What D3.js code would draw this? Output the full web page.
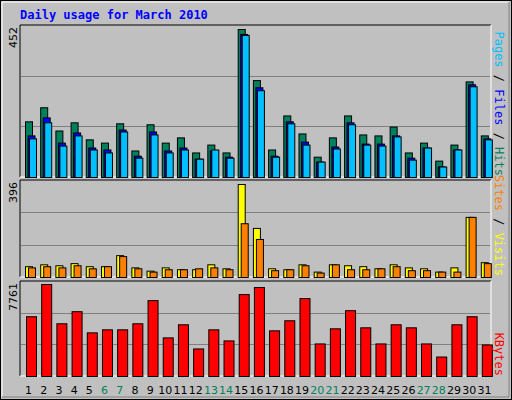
<!DOCTYPE html><html><head><meta charset="utf-8"><script src="https://d3js.org/d3.v7.min.js"></script>
<style>body{margin:0;background:#fff}</style></head><body><svg id="c" width="512" height="400"></svg>
<script>
const days=d3.range(1,32).map(String);
const weekend=["6","7","13","14","20","21","27","28"];
const hits=[170,213,142,167,115,105,164,81,161,105,121,75,99,75,452,296,84,188,133,62,121,188,130,127,154,75,105,50,99,292,127];
const files=[127,182,105,136,90,84,145,65,139,81,90,56,81,62,437,274,65,170,108,47,93,167,102,102,127,59,90,32,84,283,118];
const pages=[118,167,96,127,84,75,139,59,130,75,84,56,84,59,434,265,62,164,99,47,87,161,99,96,124,53,90,32,84,277,115];
const visits=[46,54,50,59,46,46,93,41,27,41,33,33,54,37,396,209,37,33,54,23,54,50,46,37,54,41,37,23,41,256,63];
const sites=[41,46,41,50,37,46,89,37,23,33,33,37,41,33,229,162,29,33,50,19,54,33,33,37,46,29,29,23,23,256,59];
const kbytes=[5042,7761,4447,5467,3682,3937,3937,4447,6401,3257,4362,2323,3937,3002,6911,7506,3852,4702,6571,2747,4022,5552,4107,2747,4362,4107,2747,1643,4362,5042,2662];
const svg=d3.select("#c");
svg.append("rect").attr("x",0.5).attr("y",0.5).attr("width",511).attr("height",399).attr("fill","#c0c0c0").attr("stroke","#000");
svg.append("path").attr("d","M2,397V2H509").attr("stroke","#fff").attr("fill","none");
svg.append("path").attr("d","M2,397H509V2").attr("stroke","#808080").attr("fill","none");
svg.append("text").attr("x",20).attr("y",19).text("Daily usage for March 2010").attr("fill","#0000ff").attr("font-family","DejaVu Sans Mono").attr("font-weight","bold").attr("font-size",12);
const x=d3.scaleBand().domain(days).range([20,491]).paddingInner(0).paddingOuter(0);
function panel(y0,y1,max,top){
  svg.append("rect").attr("x",20).attr("y",y0).attr("width",471).attr("height",y1-y0).attr("fill","#c0c0c0");
  svg.append("path").attr("d",`M20,${y1}V${y0}H491`).attr("stroke","#000").attr("fill","none");
  svg.append("path").attr("d",`M20,${y1}H491V${y0}`).attr("stroke","#fff").attr("fill","none");
  const y=d3.scaleLinear().domain([0,max]).range([y1,top]);
  const h=y1-y0;
  [1/3,2/3].forEach(f=>svg.append("line").attr("x1",21).attr("x2",490).attr("y1",Math.round(y1-h*f)+.5).attr("y2",Math.round(y1-h*f)+.5).attr("stroke","#808080"));
  return y;
}
function bars(data,y,off,w,color){
  svg.append("g").selectAll("rect").data(data).join("rect")
   .attr("x",(d,i)=>x(days[i])+off+0.5).attr("y",d=>y(d)+0.5).attr("width",w).attr("height",d=>y(0)-y(d))
   .attr("fill",color).attr("stroke","#000");
}
const y1=panel(25,177,452,29);
bars(hits,y1,5,7,"#00805c");bars(files,y1,7.5,7,"#0000ff");bars(pages,y1,9,7,"#00c0ff");
const y2=panel(180,277,396,184);
bars(visits,y2,5,7,"#ffff00");bars(sites,y2,8,7,"#ff8000");
const y3=panel(281,376,7761,284);
bars(kbytes,y3,6,10,"#ff0000");
function vlab(tx,ty,parts){
  const t=svg.append("text").attr("transform",`translate(${tx},${ty}) rotate(90)`).attr("font-family","DejaVu Sans Mono").attr("font-size",12).attr("text-anchor","end");
  parts.forEach(p=>t.append("tspan").text(p[0]).attr("fill",p[1]));
}
vlab(495,176,[["Pages","#00c0ff"],[" / ","#000"],["Files","#0000ff"],[" / ","#000"],["Hits","#00805c"]]);
vlab(495,276,[["Sites","#ff8000"],[" / ","#000"],["Visits","#ffff00"]]);
vlab(495,376,[["KBytes","#ff0000"]]);
[[452,27],[396,182],[7761,283]].forEach(([v,yy])=>svg.append("text").attr("transform",`translate(17,${yy}) rotate(-90)`).attr("text-anchor","end").attr("font-family","DejaVu Sans").attr("font-size",11).text(v));
svg.append("g").selectAll("text").data(days).join("text").attr("x",d=>x(d)+x.bandwidth()/2+1).attr("y",394).attr("text-anchor","middle")
 .attr("font-family","DejaVu Sans").attr("font-size",11).attr("fill",d=>weekend.includes(d)?"#00805c":"#000").text(d=>d);
</script></body></html>
